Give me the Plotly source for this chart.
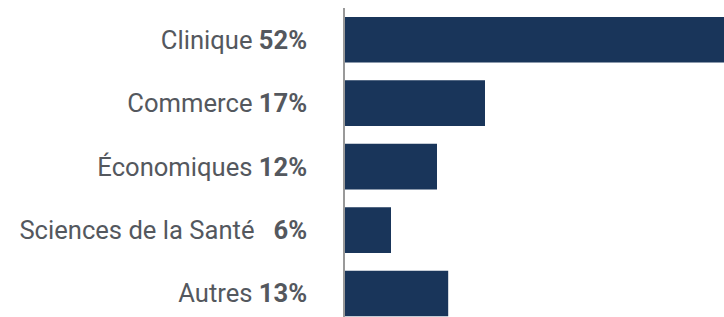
import plotly.graph_objects as go

categories = ["Clinique", "Commerce", "Économiques", "Sciences de la Santé", "Autres"]
values = [52, 17.5, 11.5, 5.75, 12.9]
pct_labels = ["52%", "17%", "12%", "6%", "13%"]
separators = [" ", " ", " ", "\u00a0\u00a0\u00a0", " "]

tick_text = [f"{c}{s}<b>{p}</b>" for c, s, p in zip(categories, separators, pct_labels)]

fig = go.Figure(
    go.Bar(
        x=values,
        y=categories,
        orientation="h",
        width=0.72,
        marker=dict(color="#19355a", line=dict(width=0)),
        hoverinfo="skip",
    )
)

fig.update_layout(
    width=724,
    height=317,
    margin=dict(l=345, r=0, t=8, b=0),
    paper_bgcolor="white",
    plot_bgcolor="white",
    font=dict(family="Roboto", size=25.6, color="#54585e"),
    showlegend=False,
)

fig.update_xaxes(
    range=[0, 47.375],
    visible=False,
    showgrid=False,
    zeroline=False,
)

fig.update_yaxes(
    range=[4.37, -0.5],
    tickmode="array",
    tickvals=categories,
    ticktext=tick_text,
    showline=True,
    linecolor="#999999",
    linewidth=1.5,
    ticks="",
    ticklabelstandoff=31,
    showgrid=False,
    zeroline=False,
    automargin=False,
)

fig.write_html(
    "out.html",
    config={"displayModeBar": False},
    post_script="document.body.style.margin='0';document.body.style.overflow='hidden';",
)
